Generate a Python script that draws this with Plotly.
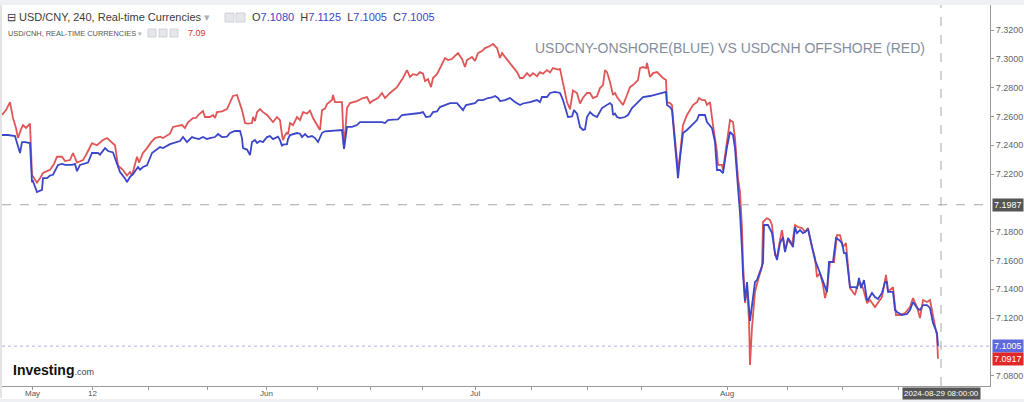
import plotly.graph_objects as go

# ---------------- data (bar index along a trading-time axis) ----------------
cnh_bar = [2, 6, 10, 13, 16, 18, 21, 23, 26, 30, 32, 34, 37, 40, 43, 47, 50, 54, 57, 62, 65, 70, 73, 77, 83, 87, 92, 97,
           103, 107, 112, 115, 118, 123, 127, 130, 132, 137, 139, 143, 147, 151, 155, 160, 163, 167, 170, 173, 178, 182,
           185, 188, 193, 196, 199, 203, 205, 210, 213, 215, 217, 222, 227, 230, 233, 237, 239, 242, 245, 248, 252, 253,
           255, 257, 260, 263, 267, 270, 273, 277, 280, 282, 283, 285, 287, 288, 290, 293, 297, 300, 303, 307, 310, 313,
           317, 320, 322, 325, 327, 332, 333, 335, 338, 342, 344, 347, 350, 357, 363, 367, 370, 373, 378, 382, 385, 390,
           397, 403, 407, 410, 413, 417, 420, 423, 425, 428, 431, 433, 437, 440, 443, 445, 448, 452, 455, 458, 462, 465,
           467, 472, 475, 478, 482, 485, 490, 493, 497, 500, 502, 505, 510, 513, 517, 520, 523, 527, 530, 533, 537, 540,
           543, 547, 550, 553, 558, 560, 562, 565, 567, 570, 573, 577, 580, 583, 587, 590, 593, 597, 600, 603, 605, 607,
           610, 613, 615, 617, 622, 623, 627, 630, 633, 638, 640, 643, 646, 647, 650, 653, 657, 660, 663, 666, 667, 670,
           672, 673, 675, 677, 678, 680, 683, 687, 690, 693, 697, 699, 702, 705, 707, 710, 713, 717, 718, 722, 723, 727,
           730, 733, 735, 738, 740, 742, 743, 745, 747, 749, 750, 752, 755, 758, 762, 763, 767, 770, 772, 775, 777, 780,
           782, 785, 788, 792, 795, 798, 802, 805, 808, 812, 815, 817, 820, 823, 825, 827, 830, 834, 837, 840, 843, 846,
           850, 855, 857, 860, 863, 867, 870, 875, 878, 882, 886, 888, 893, 896, 900, 905, 910, 913, 917, 920, 923, 927,
           930, 933, 937, 938]
cnh_val = [7.2610, 7.2644, 7.2700, 7.2589, 7.2520, 7.2450, 7.2510, 7.2540, 7.2520, 7.2550, 7.2193, 7.2170, 7.2140, 7.2170,
           7.2207, 7.2220, 7.2230, 7.2270, 7.2320, 7.2320, 7.2290, 7.2297, 7.2346, 7.2280, 7.2297, 7.2346, 7.2415, 7.2400,
           7.2436, 7.2450, 7.2420, 7.2400, 7.2260, 7.2228, 7.2190, 7.2214, 7.2190, 7.2320, 7.2280, 7.2346, 7.2380, 7.2420,
           7.2450, 7.2460, 7.2450, 7.2470, 7.2480, 7.2527, 7.2535, 7.2540, 7.2520, 7.2560, 7.2589, 7.2590, 7.2615, 7.2638,
           7.2596, 7.2596, 7.2610, 7.2589, 7.2630, 7.2636, 7.2651, 7.2693, 7.2742, 7.2749, 7.2710, 7.2644, 7.2554, 7.2550,
           7.2554, 7.2596, 7.2568, 7.2630, 7.2651, 7.2630, 7.2610, 7.2589, 7.2561, 7.2596, 7.2575, 7.2471, 7.2436, 7.2470,
           7.2490, 7.2475, 7.2554, 7.2540, 7.2596, 7.2575, 7.2630, 7.2620, 7.2640, 7.2589, 7.2540, 7.2506, 7.2644, 7.2655,
           7.2686, 7.2714, 7.2749, 7.2700, 7.2700, 7.2700, 7.2374, 7.2658, 7.2693, 7.2707, 7.2728, 7.2735, 7.2693, 7.2710,
           7.2728, 7.2763, 7.2728, 7.2763, 7.2804, 7.2867, 7.2922, 7.2874, 7.2894, 7.2887, 7.2908, 7.2897, 7.2846, 7.2860,
           7.2804, 7.2867, 7.2894, 7.2936, 7.2971, 7.3006, 7.2992, 7.2999, 7.3020, 7.3040, 7.2999, 7.2943, 7.2992, 7.3013,
           7.2985, 7.3040, 7.3054, 7.3075, 7.3089, 7.3103, 7.3075, 7.3006, 7.3040, 7.3013, 7.2971, 7.2943, 7.2908, 7.2867,
           7.2867, 7.2901, 7.2880, 7.2901, 7.2880, 7.2908, 7.2897, 7.2922, 7.2905, 7.2936, 7.2925, 7.2930, 7.2870, 7.2776,
           7.2700, 7.2650, 7.2780, 7.2763, 7.2690, 7.2730, 7.2763, 7.2763, 7.2728, 7.2740, 7.2797, 7.2818, 7.2922, 7.2908,
           7.2839, 7.2749, 7.2763, 7.2735, 7.2693, 7.2679, 7.2749, 7.2804, 7.2818, 7.2853, 7.2936, 7.2943, 7.2936, 7.2971,
           7.2874, 7.2901, 7.2908, 7.2887, 7.2867, 7.2853, 7.2700, 7.2693, 7.2679, 7.2589, 7.2422, 7.2283, 7.2228, 7.2332,
           7.2540, 7.2610, 7.2644, 7.2679, 7.2700, 7.2728, 7.2714, 7.2714, 7.2680, 7.2700, 7.2540, 7.2353, 7.2263, 7.2263,
           7.2228, 7.2450, 7.2575, 7.2561, 7.2450, 7.2172, 7.2075, 7.1825, 7.1589, 7.1304, 7.1420, 7.1186, 7.0874, 7.1137,
           7.1380, 7.1464, 7.1554, 7.1867, 7.1894, 7.1880, 7.1846, 7.1637, 7.1623, 7.1742, 7.1811, 7.1672, 7.1742, 7.1707,
           7.1846, 7.1832, 7.1825, 7.1797, 7.1825, 7.1693, 7.1617, 7.1485, 7.1512, 7.1429, 7.1339, 7.1394, 7.1589, 7.1589,
           7.1776, 7.1776, 7.1693, 7.1720, 7.1408, 7.1360, 7.1415, 7.1450, 7.1408, 7.1304, 7.1325, 7.1276, 7.1304, 7.1346,
           7.1499, 7.1381, 7.1415, 7.1221, 7.1221, 7.1235, 7.1276, 7.1339, 7.1276, 7.1200, 7.1325, 7.1311, 7.1325, 7.1214,
           7.1075, 7.0917]

cny_bar = [2, 8, 15, 20, 22, 25, 30, 32, 33, 37, 42, 43, 47, 50, 53, 58, 62, 65, 72, 75, 77, 80, 88, 92, 98, 100, 105, 108,
           113, 117, 120, 125, 127, 130, 133, 138, 140, 143, 147, 152, 157, 160, 163, 170, 180, 183, 187, 192, 195, 199,
           203, 207, 210, 215, 218, 222, 227, 230, 235, 240, 242, 243, 247, 250, 252, 255, 257, 260, 263, 267, 270, 273,
           278, 280, 282, 283, 287, 288, 290, 297, 300, 302, 305, 308, 312, 315, 318, 322, 325, 330, 337, 342, 344, 347,
           352, 357, 360, 367, 377, 382, 385, 388, 393, 398, 402, 410, 420, 423, 426, 430, 433, 437, 440, 445, 450, 457,
           460, 463, 466, 470, 475, 478, 483, 488, 492, 495, 498, 500, 505, 510, 515, 520, 523, 530, 537, 540, 542, 547,
           550, 555, 560, 563, 567, 568, 572, 574, 577, 580, 583, 585, 587, 590, 593, 597, 602, 607, 610, 612, 613, 615,
           617, 620, 625, 628, 632, 635, 640, 643, 650, 657, 663, 666, 667, 670, 672, 673, 675, 677, 678, 680, 683, 687,
           690, 693, 697, 699, 705, 707, 712, 715, 717, 720, 723, 727, 730, 733, 735, 738, 740, 742, 743, 745, 747, 750,
           753, 755, 757, 760, 763, 764, 768, 772, 775, 777, 780, 783, 785, 788, 790, 793, 795, 797, 800, 803, 805, 808,
           812, 815, 817, 820, 823, 826, 827, 829, 833, 836, 839, 842, 844, 846, 850, 855, 857, 859, 861, 864, 867, 868,
           872, 875, 878, 882, 885, 887, 888, 893, 895, 897, 902, 907, 910, 913, 917, 920, 923, 927, 930, 933, 937, 938]
cny_val = [7.2471, 7.2471, 7.2464, 7.2346, 7.2422, 7.2422, 7.2415, 7.2144, 7.2150, 7.2075, 7.2090, 7.2172, 7.2172, 7.2190,
           7.2195, 7.2263, 7.2270, 7.2263, 7.2263, 7.2270, 7.2220, 7.2263, 7.2280, 7.2346, 7.2346, 7.2335, 7.2380, 7.2360,
           7.2350, 7.2263, 7.2214, 7.2170, 7.2144, 7.2180, 7.2200, 7.2249, 7.2230, 7.2249, 7.2260, 7.2346, 7.2370, 7.2387,
           7.2380, 7.2408, 7.2429, 7.2457, 7.2422, 7.2457, 7.2450, 7.2443, 7.2457, 7.2443, 7.2450, 7.2457, 7.2478, 7.2457,
           7.2460, 7.2485, 7.2499, 7.2499, 7.2450, 7.2380, 7.2370, 7.2332, 7.2422, 7.2436, 7.2415, 7.2430, 7.2422, 7.2457,
           7.2464, 7.2443, 7.2460, 7.2436, 7.2394, 7.2405, 7.2408, 7.2443, 7.2471, 7.2485, 7.2480, 7.2457, 7.2478, 7.2457,
           7.2464, 7.2450, 7.2422, 7.2485, 7.2497, 7.2499, 7.2504, 7.2506, 7.2374, 7.2527, 7.2527, 7.2540, 7.2561, 7.2561,
           7.2564, 7.2561, 7.2554, 7.2575, 7.2578, 7.2580, 7.2610, 7.2615, 7.2624, 7.2630, 7.2596, 7.2600, 7.2630, 7.2635,
           7.2665, 7.2679, 7.2693, 7.2693, 7.2672, 7.2644, 7.2679, 7.2683, 7.2693, 7.2714, 7.2714, 7.2728, 7.2732, 7.2742,
           7.2728, 7.2707, 7.2714, 7.2728, 7.2700, 7.2679, 7.2690, 7.2700, 7.2714, 7.2700, 7.2735, 7.2735, 7.2763, 7.2770,
           7.2763, 7.2714, 7.2630, 7.2596, 7.2600, 7.2644, 7.2620, 7.2527, 7.2506, 7.2510, 7.2596, 7.2630, 7.2610, 7.2596,
           7.2658, 7.2679, 7.2693, 7.2679, 7.2610, 7.2620, 7.2596, 7.2589, 7.2596, 7.2610, 7.2658, 7.2679, 7.2714, 7.2735,
           7.2742, 7.2756, 7.2763, 7.2770, 7.2679, 7.2665, 7.2644, 7.2561, 7.2380, 7.2228, 7.2172, 7.2311, 7.2485, 7.2506,
           7.2527, 7.2554, 7.2575, 7.2610, 7.2610, 7.2561, 7.2519, 7.2422, 7.2228, 7.2228, 7.2207, 7.2388, 7.2492, 7.2471,
           7.2380, 7.2103, 7.1930, 7.1672, 7.1500, 7.1318, 7.1450, 7.1180, 7.1346, 7.1450, 7.1464, 7.1525, 7.1582, 7.1846,
           7.1846, 7.1790, 7.1651, 7.1603, 7.1720, 7.1762, 7.1658, 7.1756, 7.1735, 7.1693, 7.1832, 7.1790, 7.1811, 7.1790,
           7.1797, 7.1818, 7.1693, 7.1603, 7.1568, 7.1512, 7.1450, 7.1394, 7.1380, 7.1589, 7.1589, 7.1756, 7.1742, 7.1720,
           7.1651, 7.1651, 7.1415, 7.1415, 7.1408, 7.1478, 7.1408, 7.1464, 7.1325, 7.1325, 7.1374, 7.1346, 7.1332, 7.1374,
           7.1450, 7.1450, 7.1381, 7.1381, 7.1256, 7.1242, 7.1221, 7.1228, 7.1256, 7.1311, 7.1270, 7.1256, 7.1290, 7.1290,
           7.1270, 7.1165, 7.1096, 7.1005]

x_tick_bars = [32, 92, 148, 207, 266, 317, 370, 422, 475, 531, 587, 641, 727, 787, 842, 898]
x_tick_text = ["May", "12", "", "", "Jun", "", "", "", "Jul", "", "", "", "Aug", "", "", ""]
y_tick_vals = [7.08, 7.12, 7.14, 7.16, 7.18, 7.22, 7.24, 7.26, 7.28, 7.30, 7.32]
y_tick_text = ["%.4f" % v for v in y_tick_vals]

ohlc = {"O": "7.1080", "H": "7.1125", "L": "7.1005", "C": "7.1005"}
cnh_last_label = "7.09"
crosshair_price = 7.1987
crosshair_bar = 941
crosshair_time = "2024-08-29 08:00:00"
cny_last = 7.1005
cnh_last = 7.0917

# ---------------- layout helpers (pixel -> paper) ----------------
W, H = 1024, 402
ML, MR, MT, MB = 2, 34, 5, 16
PW, PH = W - ML - MR, H - MT - MB


def px(x):
    return (x - ML) / PW


def py(y):
    return (H - MB - y) / PH


RED = "#e05656"
BLUE = "#3b46c9"
FONT = "Liberation Sans, Arial, sans-serif"

fig = go.Figure()
fig.add_trace(go.Scatter(x=cnh_bar, y=cnh_val, mode="lines", line=dict(color=RED, width=1.8),
                         name="USD/CNH", hoverinfo="skip"))
fig.add_trace(go.Scatter(x=cny_bar, y=cny_val, mode="lines", line=dict(color=BLUE, width=1.8),
                         name="USD/CNY", hoverinfo="skip"))

shapes = []
shapes.append(dict(type="line", xref="paper", yref="y", x0=0, x1=1, y0=crosshair_price, y1=crosshair_price,
                   line=dict(color="#a8a8a8", width=1, dash="dash")))
shapes.append(dict(type="line", xref="x", yref="paper", x0=crosshair_bar, x1=crosshair_bar, y0=0, y1=1,
                   line=dict(color="#a8a8a8", width=1, dash="dash")))
shapes.append(dict(type="line", xref="paper", yref="y", x0=0, x1=1, y0=cny_last, y1=cny_last,
                   line=dict(color="#aab0f0", width=1, dash="dot")))
shapes.append(dict(type="rect", xref="paper", yref="paper", x0=px(0), x1=px(W), y0=py(5), y1=py(0),
                   fillcolor="#eef0f3", line=dict(width=0), layer="above"))
shapes.append(dict(type="rect", xref="paper", yref="paper", x0=px(0), x1=px(W), y0=py(H), y1=py(399),
                   fillcolor="#eef0f3", line=dict(width=0)))
shapes.append(dict(type="line", xref="paper", yref="paper", x0=px(1), x1=px(1), y0=py(398), y1=py(5),
                   line=dict(color="#c8c8c8", width=1)))
for x0 in (225, 236):
    shapes.append(dict(type="rect", xref="paper", yref="paper", x0=px(x0), x1=px(x0 + 9), y0=py(22), y1=py(13),
                       fillcolor="#e4e6ea", line=dict(color="#cfd2d8", width=1)))
for x0 in (148, 159, 170):
    shapes.append(dict(type="rect", xref="paper", yref="paper", x0=px(x0), x1=px(x0 + 8), y0=py(37), y1=py(29),
                       fillcolor="#e4e6ea", line=dict(color="#cfd2d8", width=1)))

ann = []
ann.append(dict(x=px(5), y=py(17), xref="paper", yref="paper", xanchor="left", yanchor="middle", showarrow=False,
                text="⊟ USD/CNY, 240, Real-time Currencies <span style='color:#b0b0b0'>▾</span>",
                font=dict(family=FONT, size=11, color="#3c3c3c")))
ohlc_txt = "  ".join("%s<span style='color:%s'>%s</span>" % (k, BLUE, v) for k, v in ohlc.items())
ann.append(dict(x=px(250), y=py(17), xref="paper", yref="paper", xanchor="left", yanchor="middle", showarrow=False,
                text=ohlc_txt, font=dict(family=FONT, size=11, color="#3c3c3c")))
ann.append(dict(x=px(6), y=py(33), xref="paper", yref="paper", xanchor="left", yanchor="middle", showarrow=False,
                text="USD/CNH, REAL-TIME CURRENCIES <span style='color:#b0b0b0'>▾</span>",
                font=dict(family=FONT, size=7.4, color="#555555")))
ann.append(dict(x=px(186), y=py(33), xref="paper", yref="paper", xanchor="left", yanchor="middle", showarrow=False,
                text=cnh_last_label, font=dict(family=FONT, size=9, color="#e03030")))
ann.append(dict(x=px(533), y=py(48), xref="paper", yref="paper", xanchor="left", yanchor="middle", showarrow=False,
                text="USDCNY-ONSHORE(BLUE) VS USDCNH OFFSHORE (RED)",
                font=dict(family=FONT, size=14, color="#858e9c")))
ann.append(dict(x=px(11), y=py(370), xref="paper", yref="paper", xanchor="left", yanchor="middle", showarrow=False,
                text="<b>Investing</b><span style='font-size:9px;color:#444'>.com</span>",
                font=dict(family=FONT, size=14, color="#111111")))
# x-axis labels (drawn as text so they sit right under the short ticks)
for b, t in zip(x_tick_bars, x_tick_text):
    if t:
        ann.append(dict(x=b, y=py(393.5), xref="x", yref="paper", xanchor="center", yanchor="middle",
                        showarrow=False, text=t, font=dict(family=FONT, size=8, color="#555555")))
for val, bg in ((crosshair_price, "#555555"), (cny_last, "#5c68dc"), (cnh_last, "#e02828")):
    ann.append(dict(x=1.0, y=val, xref="paper", yref="y", xanchor="left", yanchor="middle", showarrow=False,
                    text="%.4f" % val, bgcolor=bg, borderpad=1, xshift=2,
                    font=dict(family=FONT, size=9, color="#ffffff")))
ann.append(dict(x=crosshair_bar, y=py(393), xref="x", yref="paper", xanchor="center", yanchor="middle",
                showarrow=False, text=crosshair_time, bgcolor="#555555", borderpad=1,
                font=dict(family=FONT, size=8, color="#ffffff")))

fig.update_layout(
    width=W, height=H, margin=dict(l=ML, r=MR, t=MT, b=MB),
    paper_bgcolor="#ffffff", plot_bgcolor="#ffffff", showlegend=False,
    shapes=shapes, annotations=ann,
    xaxis=dict(range=[2, 990], showgrid=False, zeroline=False, showline=True, linecolor="#9a9a9a", linewidth=1,
               ticks="outside", ticklen=3, tickcolor="#9a9a9a", tickvals=x_tick_bars,
               showticklabels=False, fixedrange=True),
    yaxis=dict(range=[7.0728, 7.3374], side="right", showgrid=False, zeroline=False, showline=True,
               linecolor="#9a9a9a", linewidth=1, ticks="outside", ticklen=3, tickcolor="#9a9a9a",
               tickvals=y_tick_vals, ticktext=y_tick_text,
               tickfont=dict(family=FONT, size=9, color="#666666"), fixedrange=True),
)

fig.write_html("out.html", config={"displayModeBar": False},
               post_script="document.body.style.margin='0';document.body.style.overflow='hidden';")
